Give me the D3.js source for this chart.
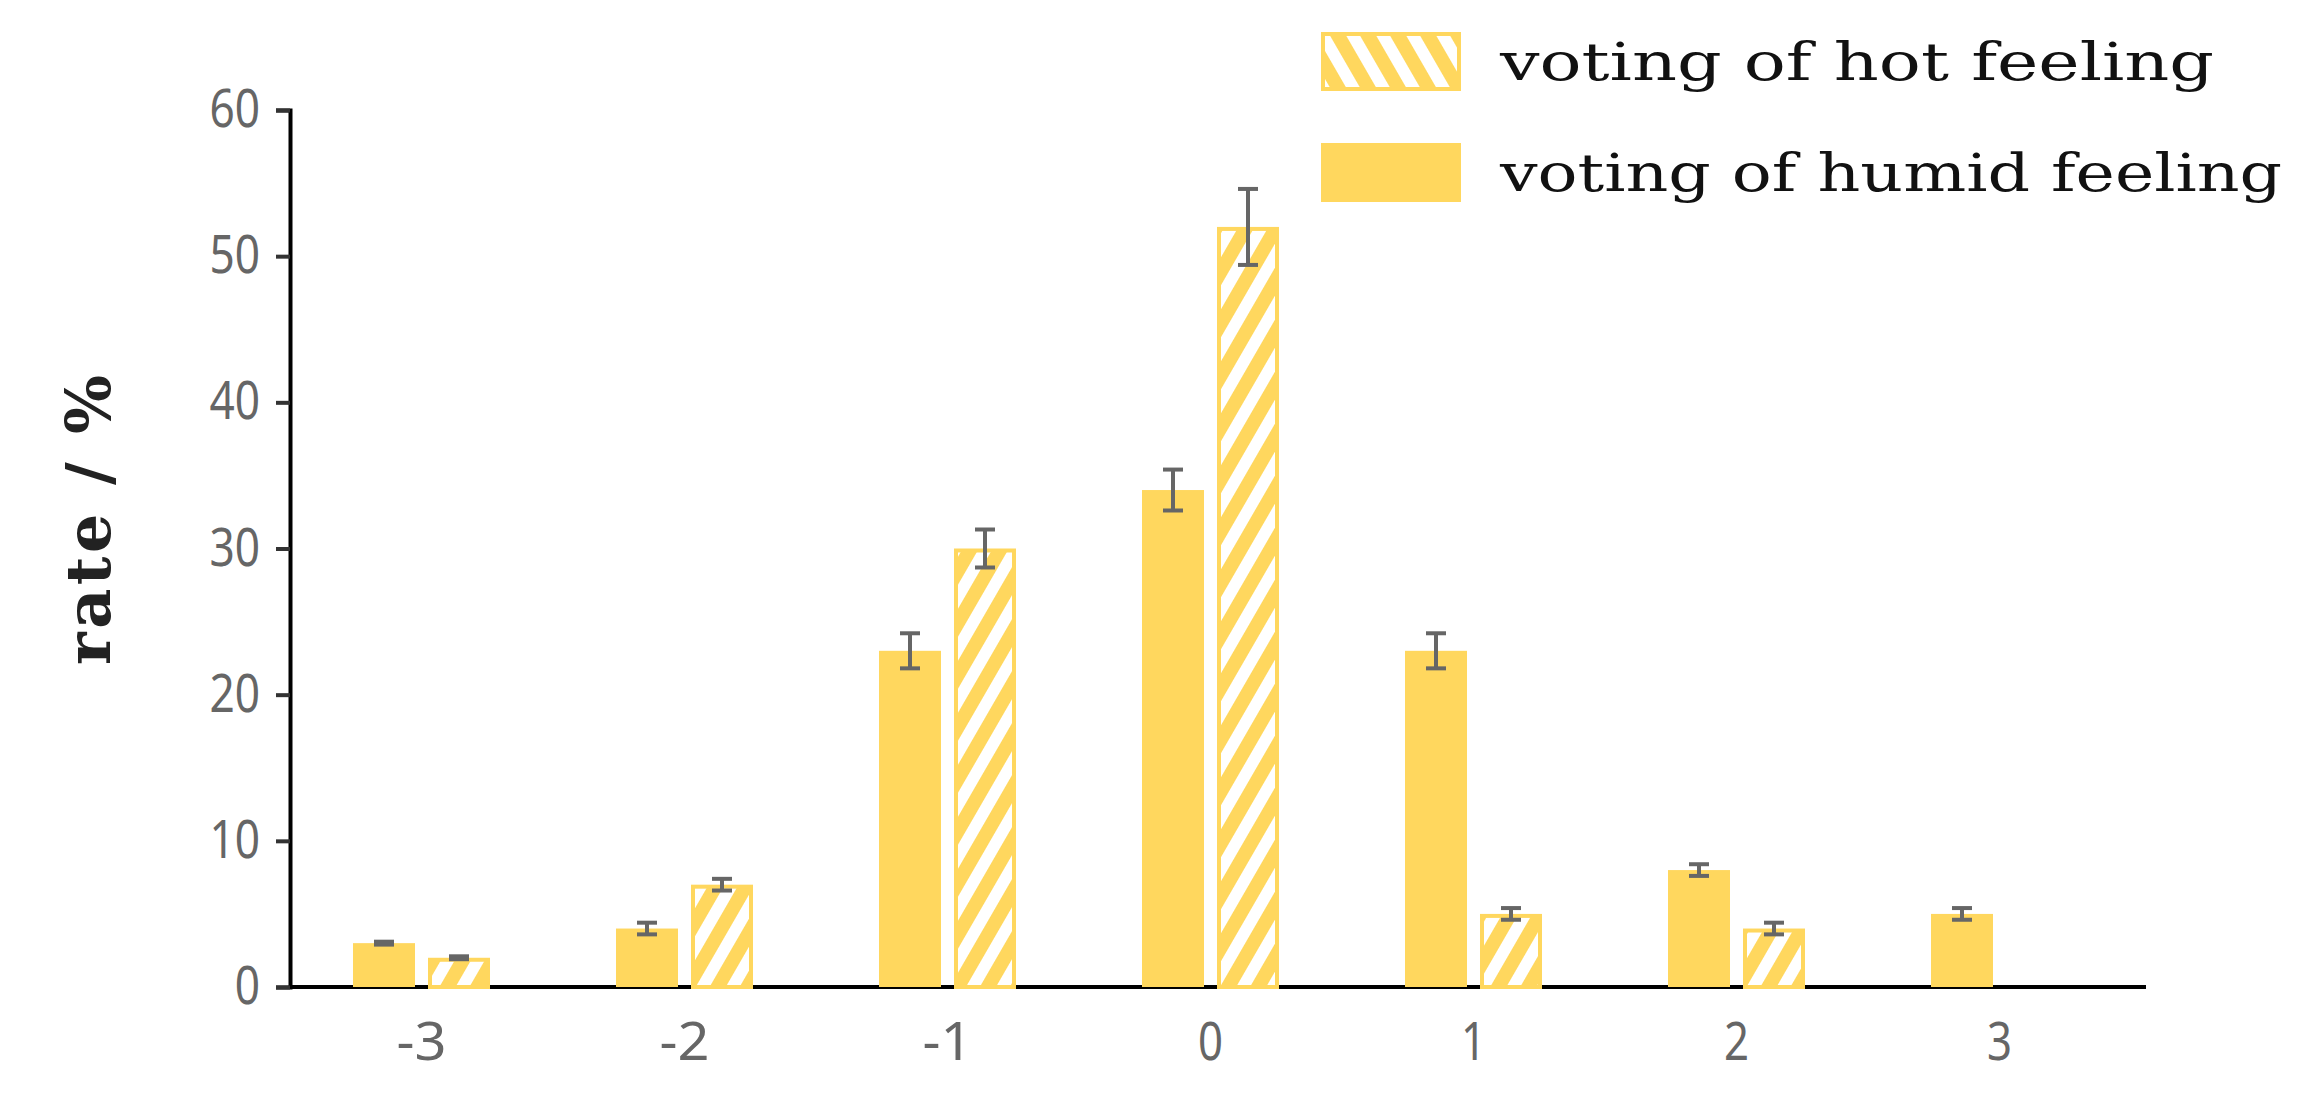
<!DOCTYPE html>
<html>
<head>
<meta charset="UTF-8">
<script src="https://cdn.jsdelivr.net/npm/d3@7"></script>
<style>body{margin:0;background:#fff}</style>
</head>
<body>
<svg id="viz"></svg>
<script>
// Data ---
const categories = ['-3', '-2', '-1', '0', '1', '2', '3'];
const humid = [3, 4, 23, 34, 23, 8, 5];
const humidErr = [0.1, 0.4, 1.2, 1.4, 1.2, 0.4, 0.4];
const hot = [2, 7, 30, 52, 5, 4, 0];
const hotErr = [0.1, 0.4, 1.3, 2.6, 0.4, 0.4, 0];
const yTicks = [0, 10, 20, 30, 40, 50, 60];

const W = 2298, H = 1104;
const yellow = '#FFD75E';
const svg = d3.select('#viz').attr('width', W).attr('height', H);

const defs = svg.append('defs');
function hatch(id, angle) {
	const p = defs.append('pattern').attr('id', id).attr('patternUnits', 'userSpaceOnUse')
		.attr('width', 26).attr('height', 26).attr('patternTransform', `rotate(${angle})`);
	p.append('rect').attr('width', 26).attr('height', 26).attr('fill', yellow);
	p.append('rect').attr('x', 4).attr('width', 12).attr('height', 26).attr('fill', '#fff');
}
hatch('hatchBar', 30);
hatch('hatchLeg', -30);

// Scales ---
const x = d3.scaleBand().domain(categories).range([290, 2131]);
const y = d3.scaleLinear().domain([0, 60]).range([987, 110]);
const barW = 62, gap = 13;

// Axes ---
const yAxis = svg.append('g').attr('transform', 'translate(290,0)')
	.call(d3.axisLeft(y).tickValues(yTicks).tickSize(14).tickPadding(16));
const xAxis = svg.append('g').attr('transform', 'translate(0,987)')
	.call(d3.axisBottom(x).tickSize(0).tickPadding(36));
[yAxis, xAxis].forEach(a => {
	a.select('.domain').attr('stroke', '#000').attr('stroke-width', 4);
	a.selectAll('.tick line').attr('stroke', '#333').attr('stroke-width', 4);
	a.selectAll('text').attr('fill', '#666').style('font-size', '52px').style('font-family', 'Noto Sans')
		.attr('transform', 'scale(0.85,1)');
});
yAxis.selectAll('.tick text').attr('x', -30 / 0.85);
xAxis.selectAll('.tick text').attr('transform', null).attr('textLength', d => d.length * 25).attr('lengthAdjust', 'spacingAndGlyphs');
xAxis.select('.domain').attr('d', 'M290,0H2146');

// Bars ---
const groups = svg.append('g').selectAll('g').data(categories).join('g');
groups.append('rect')
	.attr('x', d => x(d) + x.bandwidth() / 2 - gap / 2 - barW)
	.attr('y', (d, i) => y(humid[i])).attr('width', barW)
	.attr('height', (d, i) => y(0) - y(humid[i])).attr('fill', yellow);
groups.filter((d, i) => hot[i] > 0).append('rect')
	.attr('x', d => x(d) + x.bandwidth() / 2 + gap / 2 + 2)
	.attr('y', (d, i) => y(hot[i]) + 2).attr('width', barW - 4)
	.attr('height', (d, i) => y(0) - y(hot[i]) - 2)
	.attr('fill', 'url(#hatchBar)').attr('stroke', yellow).attr('stroke-width', 4);

// Error bars ---
function errBar(cx, v, e) {
	const g = svg.append('g').attr('stroke', '#666').attr('stroke-width', 4);
	g.append('line').attr('x1', cx).attr('x2', cx).attr('y1', y(v - e)).attr('y2', y(v + e));
	[v - e, v + e].forEach(t => g.append('line').attr('x1', cx - 10).attr('x2', cx + 10).attr('y1', y(t)).attr('y2', y(t)));
}
categories.forEach((d, i) => {
	errBar(x(d) + x.bandwidth() / 2 - gap / 2 - barW / 2, humid[i], humidErr[i]);
	if (hot[i] > 0) errBar(x(d) + x.bandwidth() / 2 + gap / 2 + barW / 2, hot[i], hotErr[i]);
});

// Y title ---
svg.append('text').attr('transform', 'translate(110,520) rotate(-90)')
	.attr('text-anchor', 'middle').style('font-family', 'DejaVu Serif').style('font-weight', 'bold')
	.style('font-size', '62px').attr('fill', '#222')
	.attr('textLength', 290).attr('lengthAdjust', 'spacing').text('rate / %');

// Legend ---
const legend = [
	{ label: 'voting of hot feeling', fill: 'url(#hatchLeg)', y: 32 },
	{ label: 'voting of humid feeling', fill: yellow, y: 143 }
];
legend.forEach(l => {
	svg.append('rect').attr('x', 1323).attr('y', l.y + 2).attr('width', 136).attr('height', 55)
		.attr('fill', l.fill).attr('stroke', yellow).attr('stroke-width', 4);
	svg.append('text').attr('x', 1500).attr('y', l.y + 48)
		.attr('textLength', l.label.length * 34).attr('lengthAdjust', 'spacingAndGlyphs')
		.style('font-family', 'DejaVu Serif Condensed').style('font-size', '52px').attr('fill', '#111')
		.text(l.label);
});
</script>
</body>
</html>
